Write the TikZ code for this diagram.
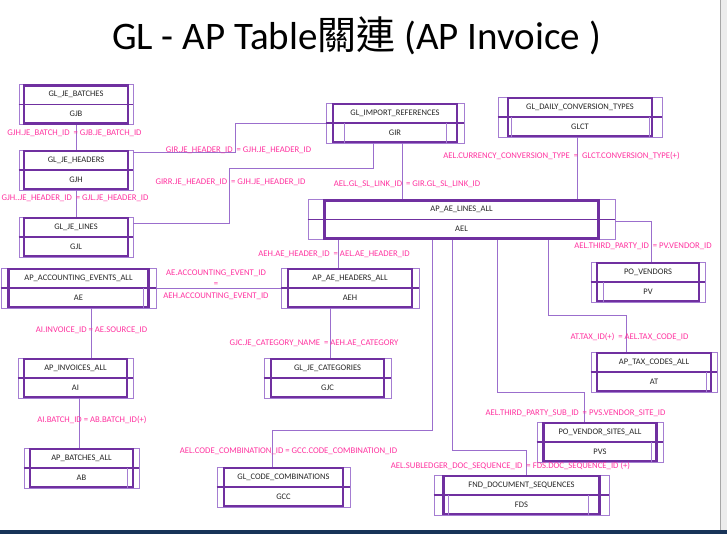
\documentclass[tikz,border=0pt]{standalone}
\usepackage{fontspec}
\setmainfont{Carlito}
\newfontfamily\cjk{Noto Sans CJK TC}
\usetikzlibrary{positioning}

\definecolor{tblpurple}{RGB}{112,48,160}
\definecolor{tbllight}{RGB}{165,125,210}
\definecolor{linkpurple}{RGB}{155,110,205}
\definecolor{lblpink}{RGB}{255,51,160}
\definecolor{slidenavy}{RGB}{24,52,88}

\tikzset{
  tblout/.style={draw=tbllight, line width=0.9pt, minimum height=40pt, inner sep=0pt},
  tblin/.style={draw=tblpurple, line width=2.2pt, minimum height=38pt, inner sep=0pt},
  tbldiv/.style={draw=tblpurple, line width=1.6pt},
  tblrule/.style={draw=tbllight, line width=0.8pt},
  tblname/.style={font=\fontsize{8.5}{10}\selectfont, text=black!85, inner sep=0pt},
  link/.style={draw=linkpurple, line width=0.9pt},
  lbl/.style={font=\fontsize{8.7}{10}\selectfont, text=lblpink, inner sep=0pt},
}

% id, x, y (divider), outer width, inner width, table name, alias
\newcommand{\dbtable}[7]{%
  \node[tblout, minimum width=#4] (#1) at (#2,#3) {};
  \node[tblin, minimum width=#5] (#1-in) at (#2,#3) {};
  \draw[tbldiv] (#1.west) -- (#1.east);
  \node[tblname] (#1-name) at (#2,#3-10) {#6};
  \node[tblname] (#1-alias) at (#2,#3+9.5) {#7};
}

\begin{document}
\begin{tikzpicture}[x=1pt,y=-1pt]
  \useasboundingbox (0,0) rectangle (727,534);
  % slide
  \fill[gray!15] (0,0) rectangle (727,534);
  \fill[white] (0,0) rectangle (720,530);
  \draw[gray!70, line width=0.8pt] (720.4,0) -- (720.4,530);
  \fill[slidenavy] (0,530) rectangle (727,534);

  \node[font=\fontsize{39}{42}\selectfont, anchor=base, inner sep=0pt] (title) at (356.5,50)
    {GL - AP Table{\cjk 關連} (AP Invoice )};

  % tables
  \dbtable{gjb}{76}{104.5}{114}{104}{GL\_JE\_BATCHES}{GJB}
  \dbtable{gjh}{76}{170}{114}{104}{GL\_JE\_HEADERS}{GJH}
  \dbtable{gjl}{76}{237}{114}{104}{GL\_JE\_LINES}{GJL}
  \dbtable{gir}{395}{123}{138}{124}{GL\_IMPORT\_REFERENCES}{GIR}
  \dbtable{glct}{580}{117}{164}{144}{GL\_DAILY\_CONVERSION\_TYPES}{GLCT}
  \dbtable{ael}{461.5}{219.5}{307}{274}{AP\_AE\_LINES\_ALL}{AEL}
  \dbtable{ae}{78.5}{288}{155}{140}{AP\_ACCOUNTING\_EVENTS\_ALL}{AE}
  \dbtable{aeh}{350}{288}{138}{124}{AP\_AE\_HEADERS\_ALL}{AEH}
  \dbtable{pv}{648}{282}{114}{102}{PO\_VENDORS}{PV}
  \dbtable{gjc}{327.5}{378}{127}{113}{GL\_JE\_CATEGORIES}{GJC}
  \dbtable{at}{654}{372}{126}{114}{AP\_TAX\_CODES\_ALL}{AT}
  \dbtable{ai}{75.5}{378}{115}{103}{AP\_INVOICES\_ALL}{AI}
  \dbtable{pvs}{600}{442}{126}{113}{PO\_VENDOR\_SITES\_ALL}{PVS}
  \dbtable{ab}{81.5}{468}{115}{103}{AP\_BATCHES\_ALL}{AB}
  \dbtable{gcc}{283.5}{487}{133}{119}{GL\_CODE\_COMBINATIONS}{GCC}
  \dbtable{fds}{521.5}{495}{175}{156}{FND\_DOCUMENT\_SEQUENCES}{FDS}

  % stray column rules in the alias rows
  \foreach \t/\dx in {gir/-51, gir/51, glct/-69, glct/69, pv/-45, at/52,
                      ab/45.5, fds/-73.5, fds/66.5, ae/64.5, pvs/51}
    \draw[tblrule] ([xshift=\dx]\t.center) -- ([xshift=\dx]\t.south);

  % joins
  \draw[link] (gjb.south) -- (gjh.north);
  \draw[link] (gjh.south) -- (gjl.north);
  \draw[link] ([yshift=-3]gjh.north east) -| (235,123) -- (gir.west);
  \draw[link] ([xshift=-22]gir.south) |- (229,168) |- ([yshift=-7]gjl.north east);
  \draw[link] ([xshift=7]gir.south) -- ([xshift=7]gir.south |- ael.north);
  \draw[link] ([xshift=-3]glct.south) -- ([xshift=-3]glct.south |- ael.north);
  \draw[link] ([yshift=-1.5]ael.east) -| ([xshift=3]pv.north);
  \draw[link] ([xshift=86.5]ael.south) -- ++(0,75) -| ([xshift=-28]at.north);
  \draw[link] ([xshift=35.5]ael.south) -- ++(0,152) -| ([xshift=-16]pvs.north);
  \draw[link] ([xshift=-9.5]ael.south) -- ++(0,210) -| ([xshift=4.5]fds.north);
  \draw[link] ([xshift=-29]ael.south) -- ++(0,190) -| ([xshift=-11.5]gcc.north);
  \draw[link] ([xshift=-12]aeh.north) -- ([xshift=-12]aeh.north |- ael.south);
  \draw[link] (ae.east) -- (aeh.west);
  \draw[link] ([xshift=-20]aeh.south) -- ([xshift=-20]aeh.south |- gjc.north);
  \draw[link] ([xshift=12.5]ae.south) -- ([xshift=12.5]ae.south |- ai.north);
  \draw[link] ([xshift=3.5]ai.south) -- ([xshift=3.5]ai.south |- ab.north);

  % join conditions
  \node[lbl] (l1) at (74.5,133) {GJH.JE\_BATCH\_ID \ = GJB.JE\_BATCH\_ID};
  \node[lbl] (l2) at (75,198.5) {GJH..JE\_HEADER\_ID \ = GJL.JE\_HEADER\_ID};
  \node[lbl] (l3) at (238.5,150) {GIR.JE\_HEADER\_ID \ = GJH.JE\_HEADER\_ID};
  \node[lbl] (l4) at (230.5,182) {GIRR.JE\_HEADER\_ID \ = GJH.JE\_HEADER\_ID};
  \node[lbl] (l5) at (407,184) {AEL.GL\_SL\_LINK\_ID \ = GIR.GL\_SL\_LINK\_ID};
  \node[lbl] (l6) at (561.5,156) {AEL.CURRENCY\_CONVERSION\_TYPE \ = \ GLCT.CONVERSION\_TYPE(+)};
  \node[lbl] (l7) at (643,246) {AEL.THIRD\_PARTY\_ID \ = PV.VENDOR\_ID};
  \node[lbl] (l8) at (334,254) {AEH.AE\_HEADER\_ID \ = AEL.AE\_HEADER\_ID};
  \node[lbl, align=center, font=\fontsize{8.7}{11.5}\selectfont] (l9) at (216,284.5)
    {AE.ACCOUNTING\_EVENT\_ID\\=\\AEH.ACCOUNTING\_EVENT\_ID};
  \node[lbl] (l10) at (91.5,330) {AI.INVOICE\_ID = AE.SOURCE\_ID};
  \node[lbl] (l11) at (314,343) {GJC.JE\_CATEGORY\_NAME \ = AEH.AE\_CATEGORY};
  \node[lbl] (l12) at (629.5,337) {AT.TAX\_ID(+) \ = AEL.TAX\_CODE\_ID};
  \node[lbl] (l13) at (92,420) {AI.BATCH\_ID = AB.BATCH\_ID(+)};
  \node[lbl] (l14) at (575.5,413) {AEL.THIRD\_PARTY\_SUB\_ID \ = PVS.VENDOR\_SITE\_ID};
  \node[lbl] (l15) at (288.5,451) {AEL.CODE\_COMBINATION\_ID = GCC.CODE\_COMBINATION\_ID};
  \node[lbl] (l16) at (510.5,466) {AEL.SUBLEDGER\_DOC\_SEQUENCE\_ID \ = FDS.DOC\_SEQUENCE\_ID (+)};
\end{tikzpicture}
\end{document}
